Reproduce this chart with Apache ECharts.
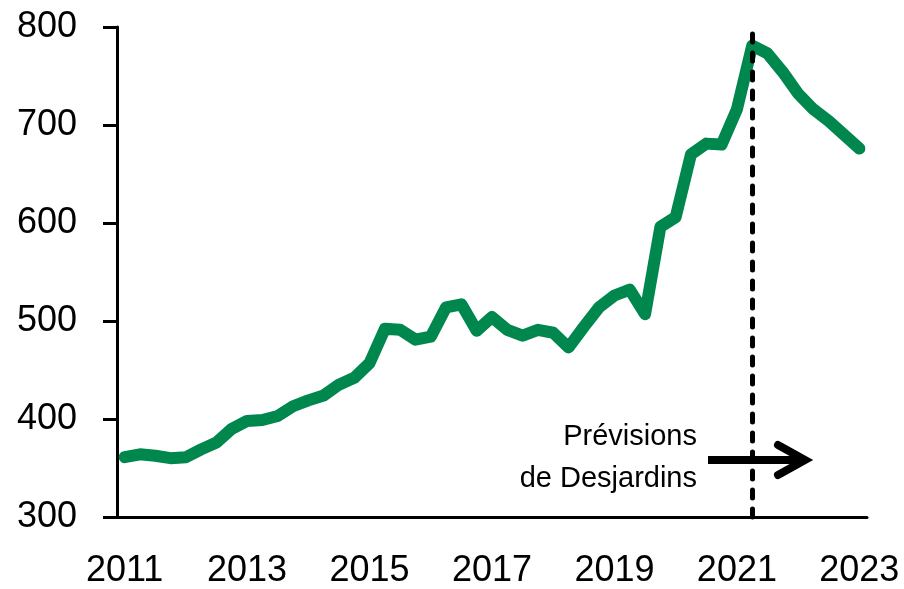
<!DOCTYPE html>
<html>
<head>
<meta charset="utf-8">
<script src="https://cdn.jsdelivr.net/npm/echarts@6/dist/echarts.min.js"></script>
<style>
html,body{margin:0;padding:0;background:#fff;}
#chart{width:904px;height:589px;}
</style>
</head>
<body>
<div id="chart"></div>
<script>
// Quarterly categories 2011T1 .. 2023T1
const years = [2011,2012,2013,2014,2015,2016,2017,2018,2019,2020,2021,2022,2023];
const quarters = [];
years.forEach(y => { for (let q = 1; q <= 4; q++) { if (y === 2023 && q > 1) break; quarters.push(y + 'T' + q); } });

const values = [
  361, 364, 362.5, 360, 361, 369, 376, 390,
  398, 399, 403, 413, 419, 424, 435, 442,
  457, 492, 491, 481, 484, 514, 517, 490,
  504, 491, 485, 491, 488, 473, 494, 514,
  526, 532, 507, 596, 606, 670, 681, 680,
  716, 781, 773, 754, 732, 716, 704, 690,
  676
];
const yTicks = [300, 400, 500, 600, 700, 800];
const xLabelYears = ['2011','2013','2015','2017','2019','2021','2023'];
const forecastStart = '2021T2';
const annotationText = 'Prévisions\nde Desjardins';

const FONT = 'Liberation Sans';
const chart = echarts.init(document.getElementById('chart'), null, {renderer: 'canvas'});
chart.setOption({
  animation: false,
  grid: {left: 117, right: 37, top: 27, bottom: 71, containLabel: false},
  xAxis: {
    type: 'category',
    data: quarters,
    boundaryGap: true,
    axisLine: {lineStyle: {color: '#000', width: 3}},
    axisTick: {show: false},
    axisLabel: {
      interval: function (idx, val) { return val.endsWith('T1') && xLabelYears.indexOf(val.slice(0,4)) >= 0; },
      formatter: function (val) { return val.slice(0,4); },
      color: '#000', fontFamily: FONT, fontSize: 36, margin: 36
    },
    splitLine: {show: false}
  },
  yAxis: {
    type: 'value',
    min: yTicks[0], max: yTicks[yTicks.length-1], interval: 100,
    axisLine: {show: true, lineStyle: {color: '#000', width: 3}},
    axisTick: {show: true, length: 14, inside: false, lineStyle: {color: '#000', width: 3}},
    axisLabel: {color: '#000', fontFamily: FONT, fontSize: 36, margin: 40},
    splitLine: {show: false}
  },
  series: [{
    type: 'line',
    data: values,
    symbol: 'none',
    lineStyle: {color: '#00874E', width: 12, cap: 'round', join: 'round'},
    markLine: {
      silent: true,
      symbol: 'none',
      label: {show: false},
      lineStyle: {color: '#000', width: 5, type: [8, 11], cap: 'round'},
      data: [{xAxis: forecastStart}]
    },
    z: 3
  }],
  graphic: [
    {
      type: 'text',
      x: 697, y: 416,
      style: {
        text: annotationText,
        fontFamily: FONT, fontSize: 29, lineHeight: 42,
        fill: '#000', align: 'right', verticalAlign: 'top'
      }
    },
    {
      type: 'line',
      shape: {x1: 708, y1: 460, x2: 803, y2: 460},
      style: {stroke: '#000', lineWidth: 8}
    },
    {
      type: 'polyline',
      shape: {points: [[778, 445], [805, 460], [778, 475]]},
      style: {stroke: '#000', lineWidth: 8, fill: null, lineJoin: 'miter', lineCap: 'round'}
    }
  ]
});
</script>
</body>
</html>
